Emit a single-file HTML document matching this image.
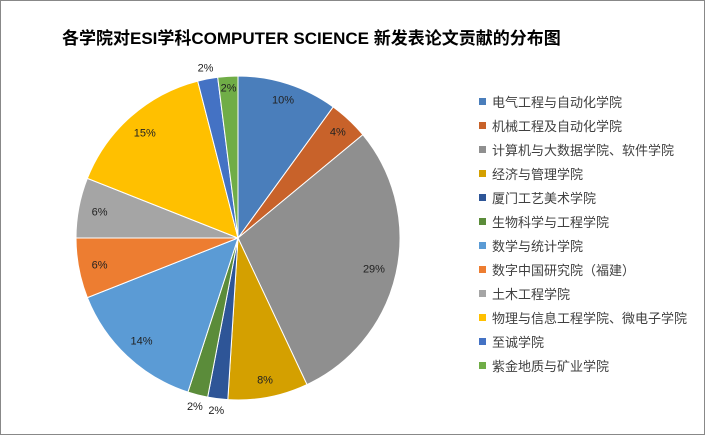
<!DOCTYPE html>
<html><head><meta charset="utf-8"><style>
body{margin:0;background:#fff;}
svg{display:block;font-family:"Liberation Sans","Noto Sans CJK SC",sans-serif;}
</style></head><body>
<svg width="706" height="436">
<rect x="0.5" y="0.5" width="704" height="434" fill="#fff" stroke="#888"/>
<text x="62" y="44" font-size="17" font-weight="bold" fill="#000">各学院对ESI学科COMPUTER SCIENCE 新发表论文贡献的分布图</text>
<g id="slices"></g><g id="labels"></g><g id="legend"></g>
</svg>
<script>
const categories=["电气工程与自动化学院","机械工程及自动化学院","计算机与大数据学院、软件学院","经济与管理学院","厦门工艺美术学院","生物科学与工程学院","数学与统计学院","数字中国研究院（福建）","土木工程学院","物理与信息工程学院、微电子学院","至诚学院","紫金地质与矿业学院"];
const values=[10,4,29,8,2,2,14,6,6,15,2,2];
const colors=["#4a7ebb","#c8622a","#8f8f8f","#d4a000","#2e5597","#5b8c3a","#5b9bd5","#ed7d31","#a5a5a5","#ffc000","#4472c4","#70ad47"];
const labelR=[0.9,0.9,0.86,0.89,1.07,1.07,0.87,0.87,0.87,0.87,1.07,0.93];
const cx=238,cy=238,R=162;
const NS="http://www.w3.org/2000/svg";
const total=values.reduce((a,b)=>a+b,0);
const sg=document.getElementById('slices'),lg=document.getElementById('labels'),leg=document.getElementById('legend');
function pt(a,r){return [cx+r*Math.sin(a),cy-r*Math.cos(a)];}
let acc=0;
values.forEach((v,i)=>{
  const a0=acc/total*2*Math.PI; acc+=v; const a1=acc/total*2*Math.PI;
  const p0=pt(a0,R),p1=pt(a1,R);
  const p=document.createElementNS(NS,'path');
  p.setAttribute('d',`M${cx},${cy}L${p0[0]},${p0[1]}A${R},${R} 0 ${a1-a0>Math.PI?1:0} 1 ${p1[0]},${p1[1]}Z`);
  p.setAttribute('fill',colors[i]);p.setAttribute('stroke','#fff');p.setAttribute('stroke-width','1');
  
  
  sg.appendChild(p);
  const lp=pt((a0+a1)/2,R*labelR[i]);
  const t=document.createElementNS(NS,'text');
  t.setAttribute('x',lp[0]);t.setAttribute('y',lp[1]+4);t.setAttribute('text-anchor','middle');t.setAttribute('font-size','11');t.setAttribute('fill','#222');
  t.textContent=Math.round(v/total*100)+'%';
  
  
  lg.appendChild(t);
});
categories.forEach((c,i)=>{
  const y=102+i*24;
  const g=document.createElementNS(NS,'g');
  
  
  const r=document.createElementNS(NS,'rect');
  r.setAttribute('x',479);r.setAttribute('y',y-4);r.setAttribute('width',7);r.setAttribute('height',7);r.setAttribute('fill',colors[i]);
  const t=document.createElementNS(NS,'text');
  t.setAttribute('x',492);t.setAttribute('y',y+5);t.setAttribute('font-size','13');t.setAttribute('fill','#404040');
  t.textContent=c;
  g.appendChild(r);g.appendChild(t);leg.appendChild(g);
});
</script>
</body></html>
